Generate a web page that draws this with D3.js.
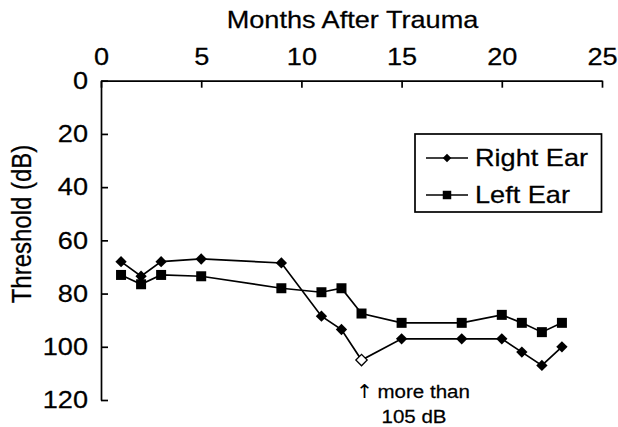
<!DOCTYPE html>
<html>
<head>
<meta charset="utf-8">
<script src="https://cdn.jsdelivr.net/npm/d3@7"></script>
<style>
  html, body { margin: 0; padding: 0; background: #fff; }
  svg { display: block; font-family: "Liberation Sans", Arial, sans-serif; }
  svg text { stroke: #000; stroke-width: 0.25px; }
</style>
</head>
<body>
<svg id="chart" width="618" height="427"></svg>
<script>
// ---- data ----
const months = [1, 2, 3, 5, 9, 11, 12, 13, 15, 18, 20, 21, 22, 23];
const rightEar = [68, 73.5, 68, 67, 68.5, 88.5, 93.5, 105, 97, 97, 97, 102, 107, 100];
const leftEar = [73, 76.5, 73, 73.5, 78, 79.5, 78, 87.5, 91, 91, 88, 91, 94.5, 91];
const rightOpen = [false, false, false, false, false, false, false, true, false, false, false, false, false, false];
const xTicks = [0, 5, 10, 15, 20, 25];
const yTicks = [0, 20, 40, 60, 80, 100, 120];
const seriesNames = ["Right Ear", "Left Ear"];
const xTitle = "Months After Trauma";
const yTitle = "Threshold (dB)";
const noteArrow = "\u2191";
const noteLines = ["more than", "105 dB"];

// ---- layout ----
const SX = 1.13; // horizontal stretch of text in the original
const svg = d3.select("#chart");
const x = d3.scaleLinear().domain([0, 25]).range([101, 602]);
const y = d3.scaleLinear().domain([0, 120]).range([80.7, 400]);

// axes
const xAxis = d3.axisTop(x).tickValues(xTicks).tickSizeInner(-7).tickSizeOuter(0).tickPadding(16);
const gx = svg.append("g").attr("transform", `translate(0,${y(0)})`).call(xAxis);
const yAxis = d3.axisLeft(y).tickValues(yTicks).tickSizeInner(-7).tickSizeOuter(0).tickPadding(13);
const gy = svg.append("g").attr("transform", `translate(${x(0)},0)`).call(yAxis);
[gx, gy].forEach(g => {
  g.attr("font-family", null).attr("font-size", null);
  g.selectAll("path.domain").attr("stroke", "#000").attr("stroke-width", 1.7);
  g.selectAll(".tick line").attr("stroke", "#000").attr("stroke-width", 1.7);
  g.selectAll(".tick text").attr("fill", "#000").style("font-size", "24px")
    .attr("transform", `scale(${SX},1)`);
});
gy.selectAll(".tick text").attr("x", -13 / SX);

// titles
svg.append("text").attr("transform", `translate(${(x(0) + x(25)) / 2 + 1},28) scale(${SX},1)`)
  .attr("text-anchor", "middle").style("font-size", "24px").text(xTitle);
svg.append("text").attr("transform", `translate(31,${224}) rotate(-90) scale(1,${SX})`)
  .attr("text-anchor", "middle").style("font-size", "24px").text(yTitle);

// lines
const line = d3.line().x(d => x(d[0])).y(d => y(d[1]));
const rData = months.map((m, i) => [m, rightEar[i], rightOpen[i]]);
const lData = months.map((m, i) => [m, leftEar[i]]);

svg.append("path").datum(lData).attr("d", line)
  .attr("fill", "none").attr("stroke", "#000").attr("stroke-width", 1.7);
svg.append("path").datum(rData).attr("d", line)
  .attr("fill", "none").attr("stroke", "#000").attr("stroke-width", 1.7);

const square = d3.symbol().type(d3.symbolSquare).size(100);

svg.selectAll(".sq").data(lData).join("path").attr("class", "sq")
  .attr("d", square).attr("transform", d => `translate(${x(d[0])},${y(d[1])})`)
  .attr("fill", "#000");
svg.selectAll(".dm").data(rData).join("path").attr("class", "dm")
  .attr("d", d3.symbol().type(d3.symbolSquare).size(64))
  .attr("transform", d => `translate(${x(d[0])},${y(d[1])}) rotate(45)`)
  .attr("fill", d => d[2] ? "#fff" : "#000")
  .attr("stroke", "#000").attr("stroke-width", d => d[2] ? 1.3 : 0);

// legend
const lg = svg.append("g");
lg.append("rect").attr("x", 415).attr("y", 134).attr("width", 186.5).attr("height", 78)
  .attr("fill", "#fff").attr("stroke", "#000").attr("stroke-width", 1.7);
const legY = [158, 195];
seriesNames.forEach((name, i) => {
  lg.append("line").attr("x1", 426).attr("x2", 468).attr("y1", legY[i]).attr("y2", legY[i])
    .attr("stroke", "#000").attr("stroke-width", 1.7);
  if (i === 0) {
    lg.append("path").attr("d", d3.symbol().type(d3.symbolSquare).size(36))
      .attr("transform", `translate(447,${legY[i]}) rotate(45)`).attr("fill", "#000");
  } else {
    lg.append("path").attr("d", d3.symbol().type(d3.symbolSquare).size(72))
      .attr("transform", `translate(447,${legY[i]})`).attr("fill", "#000");
  }
  lg.append("text").attr("transform", `translate(475,${legY[i]}) scale(${SX},1)`).attr("dy", "0.35em")
    .style("font-size", "24px").text(name);
});

// annotation
const note1 = svg.append("text").attr("transform", `translate(356,391) scale(1.08,1)`).attr("dy", "0.35em")
  .style("font-size", "19px");
note1.append("tspan").style("font-family", "'DejaVu Sans'").style("font-size", "19px")
  .style("stroke-width", "0px").text(noteArrow);
note1.append("tspan").attr("dx", 4).text(noteLines[0]);
svg.append("text").attr("transform", `translate(414,416) scale(1.08,1)`).attr("dy", "0.35em")
  .attr("text-anchor", "middle").style("font-size", "19px").text(noteLines[1]);
</script>
</body>
</html>
